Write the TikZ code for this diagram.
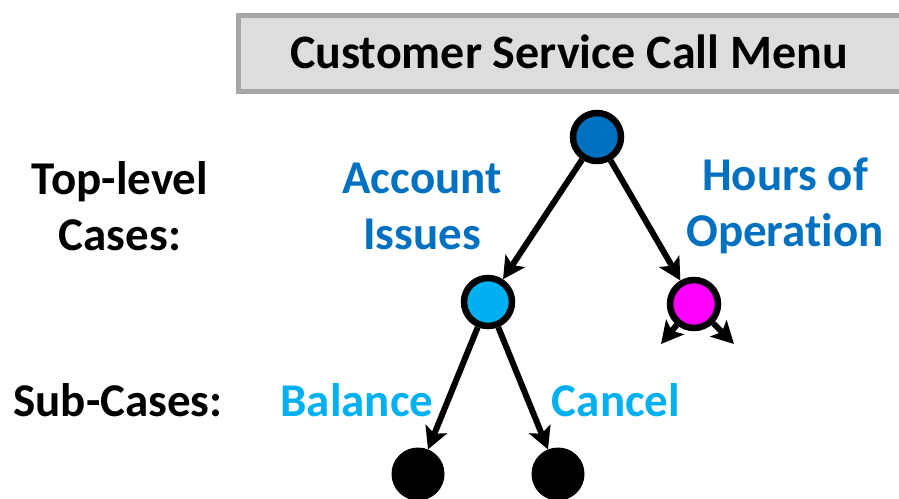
\documentclass[tikz,border=0pt]{standalone}
\usepackage{fontspec}
\setmainfont{Carlito}[Ligatures={NoCommon}]
\usetikzlibrary{arrows.meta}
\definecolor{titlefill}{HTML}{DDDDDD}
\definecolor{titledraw}{HTML}{A6A6A6}
\definecolor{topblue}{HTML}{0070C0}
\definecolor{subcyan}{HTML}{00B0F0}
\definecolor{hotpink}{HTML}{FF00FF}
\tikzset{
  treenode/.style={circle, draw=black, line width=6.5pt, minimum size=48pt, inner sep=0pt},
  leafnode/.style={circle, fill=black, draw=black, line width=1pt, minimum size=52pt, inner sep=0pt},
  conn/.style={line width=6pt, -{Stealth[length=22pt,width=23pt,inset=5pt]}},
  lab/.style={font=\bfseries\fontsize{47}{56}\selectfont, align=center, inner sep=0pt},
}
\begin{document}
\begin{tikzpicture}[x=1pt,y=-1pt]
\useasboundingbox (0,0) rectangle (899,498);
% title
\node[draw=titledraw, fill=titlefill, line width=5pt, minimum width=690pt, minimum height=76pt, anchor=north west, inner sep=0pt] (title) at (236,13) {};
\node[lab, font=\bfseries\fontsize{48}{56}\selectfont] (titletext) at (569,52) {Customer Service Call Menu};
% tree nodes
\node[treenode, fill=topblue] (root) at (597,137) {};
\node[treenode, fill=subcyan] (acct) at (488,302) {};
\node[treenode, fill=hotpink] (hours) at (694,304) {};
\node[leafnode] (bal) at (418,474) {};
\node[leafnode] (canc) at (558,474) {};
\coordinate (hl) at (661,344);
\coordinate (hr) at (734,344);
% connectors
\draw[conn] (root) -- (acct);
\draw[conn] (root) -- (hours);
\draw[conn] (acct) -- (bal);
\draw[conn] (acct) -- (canc);
\draw[conn] (hours) -- (hl);
\draw[conn] (hours) -- (hr);
% labels
\node[lab] (toplab) at (120,206) {Top-level\\Cases:};
\node[lab, text=topblue] (acctlab) at (422,206) {Account\\Issues};
\node[lab, text=topblue] (hourslab) at (785,206) {Hours of\\Operation};
\node[lab] (sublab) at (118,400) {Sub-Cases:};
\node[lab, text=subcyan] (ballab) at (357,400) {Balance};
\node[lab, text=subcyan] (canclab) at (616,400) {Cancel};
\end{tikzpicture}
\end{document}
